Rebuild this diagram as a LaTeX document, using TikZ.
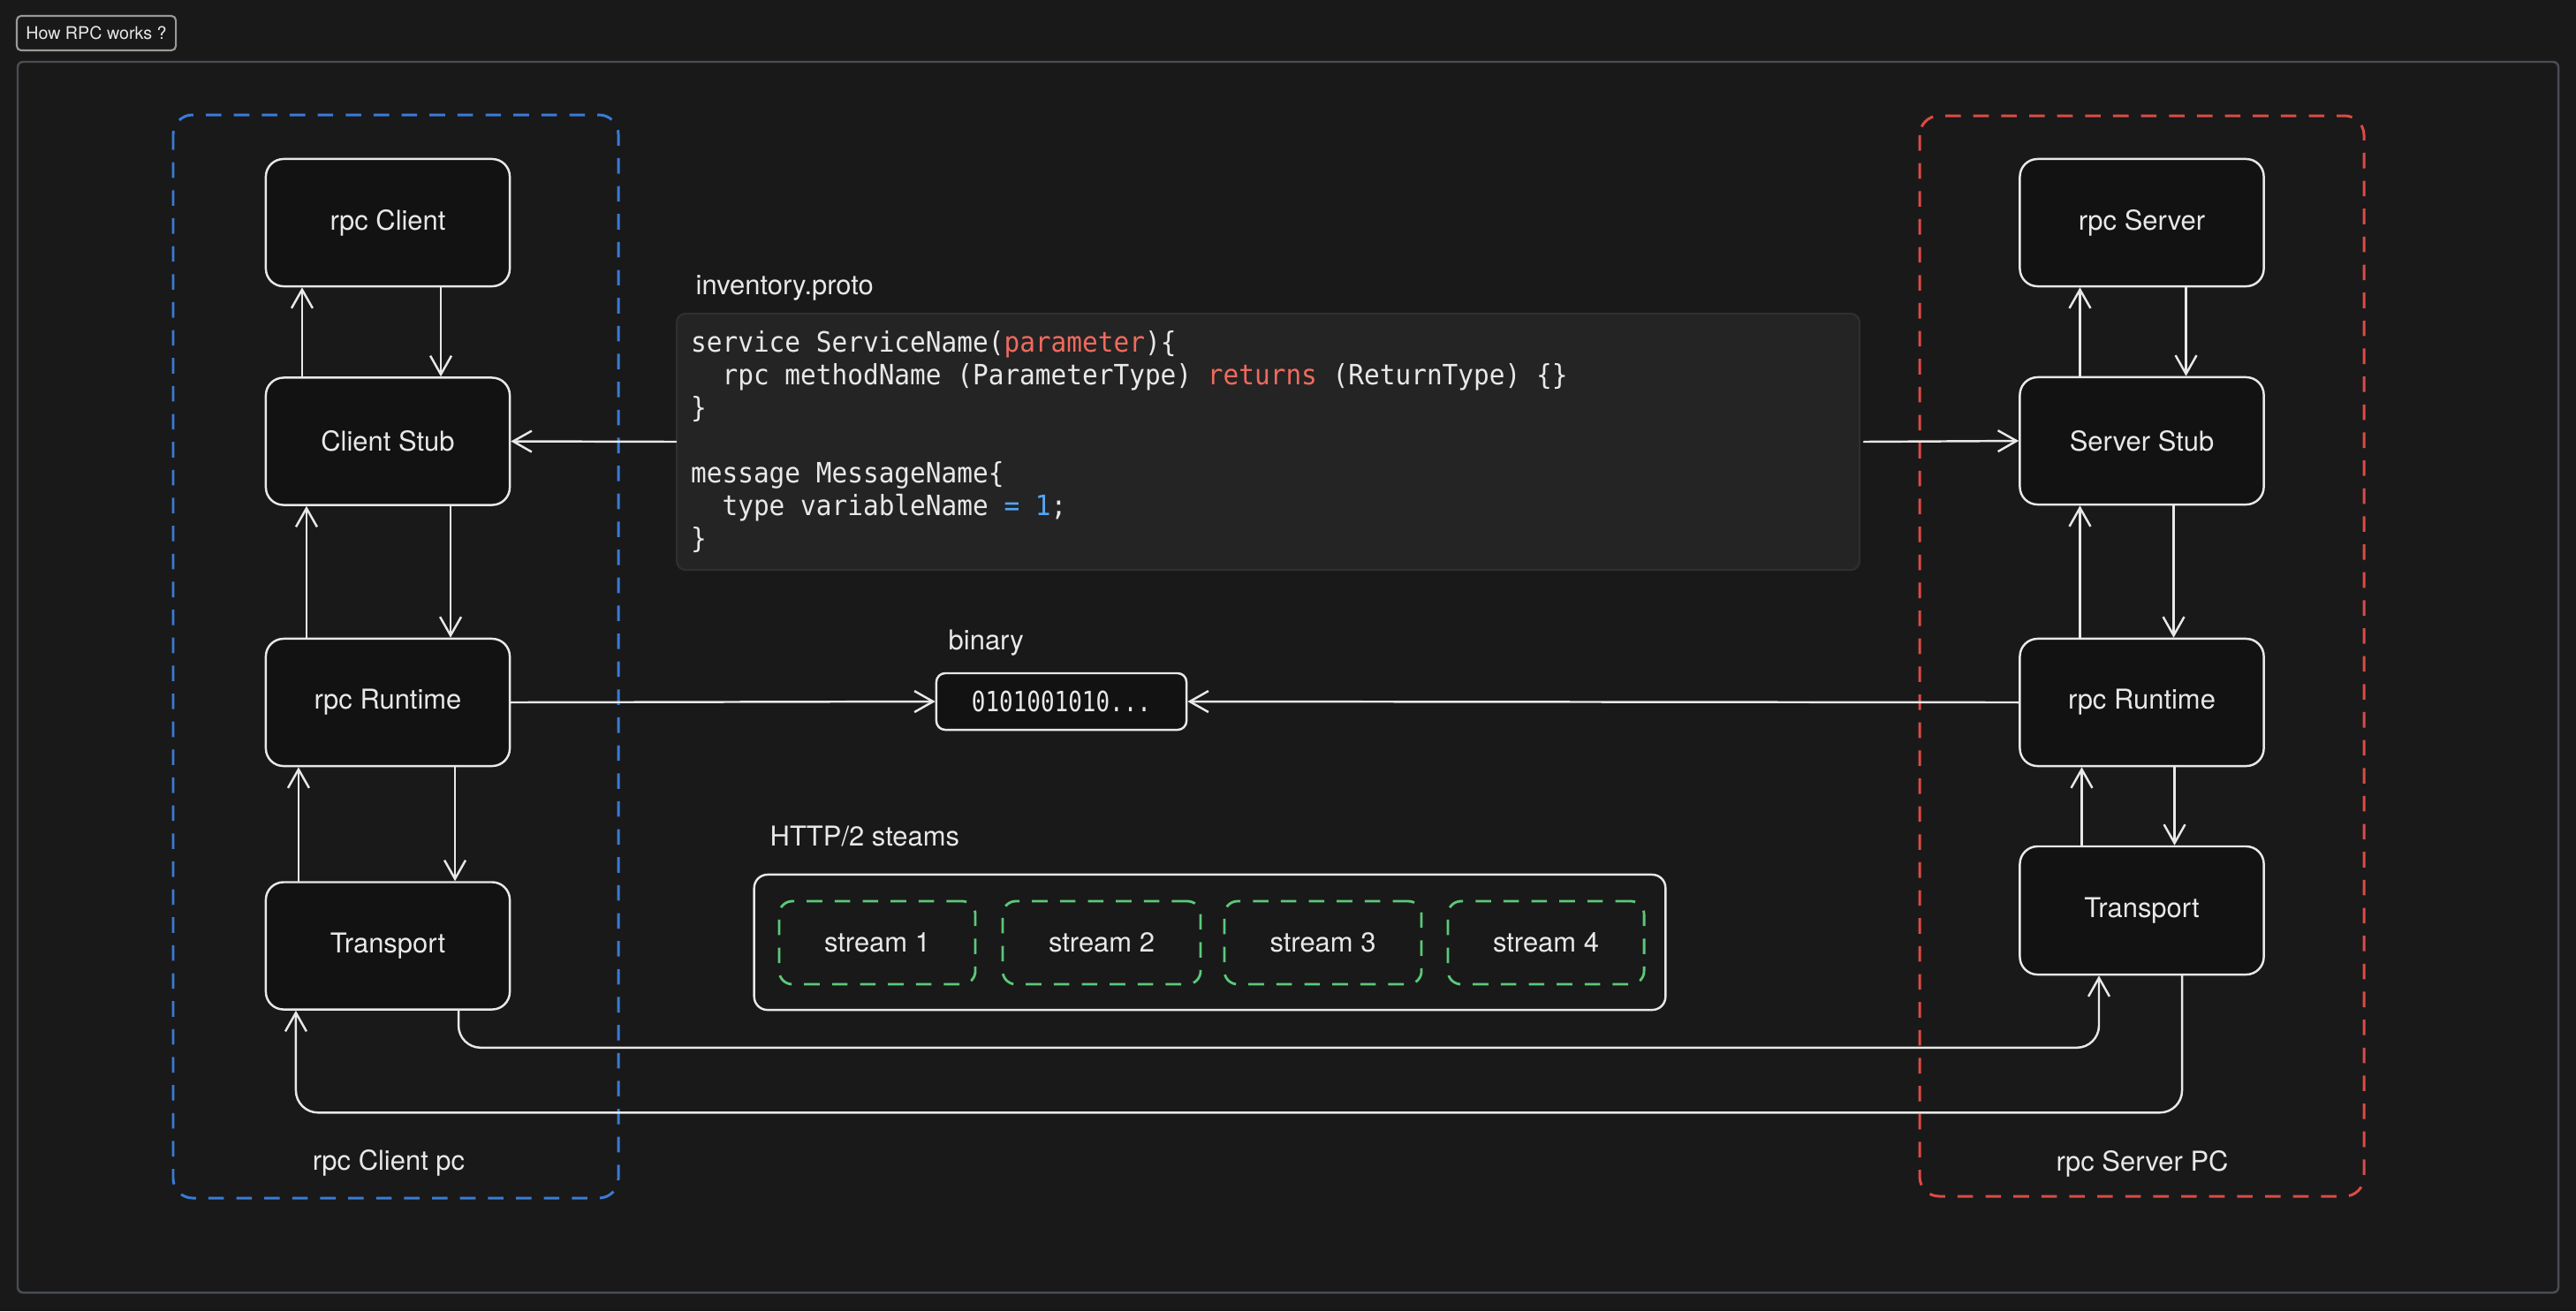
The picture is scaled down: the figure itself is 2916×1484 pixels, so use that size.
\documentclass[tikz,border=0pt]{standalone}
\usepackage{fontspec}
\setmainfont{TeX Gyre Heros}
\newfontfamily\codefont[FakeStretch=0.93]{DejaVu Sans Mono}
\newfontfamily\binfont[FakeStretch=0.82]{DejaVu Sans Mono}
\usetikzlibrary{arrows.meta}
\definecolor{bg}{HTML}{191919}
\definecolor{fg}{HTML}{E8E8E8}
\definecolor{frame}{HTML}{4A4D52}
\definecolor{boxfill}{HTML}{121212}
\definecolor{cblueb}{HTML}{3A7BD5}
\definecolor{credb}{HTML}{DC4B45}
\definecolor{cgreen}{HTML}{5BC97A}
\definecolor{codefill}{HTML}{242424}
\definecolor{codeborder}{HTML}{303030}
\definecolor{cred}{HTML}{F06A5E}
\definecolor{cblue}{HTML}{55A5F2}
\newcommand\cind{\hspace*{2\fontcharwd\font`a}}
\newcommand\csp{\hspace*{\fontcharwd\font`a}}
\tikzset{
  lbl/.style={text=fg, inner sep=0pt, font=\fontsize{8.8}{10}\selectfont},
  pbox/.style={draw=fg, line width=0.7pt, fill=boxfill, rounded corners=0.2cm,
    minimum width=2.76cm, minimum height=1.44cm, text=fg, font=\fontsize{8.8}{10}\selectfont},
  arr/.style={draw=fg, line width=0.7pt, line cap=round,
    -{Straight Barb[length=6pt,width=6.8pt,line width=0.7pt]}},
  grp/.style={line width=0.85pt, dash pattern=on 5pt off 4pt, rounded corners=0.22cm},
  sbox/.style={draw=cgreen, line width=0.8pt, dash pattern=on 5pt off 4pt, rounded corners=0.15cm,
    minimum width=2.22cm, minimum height=0.94cm, text=fg, font=\fontsize{8.8}{10}\selectfont},
}
\begin{document}
\begin{tikzpicture}[x=0.01cm,y=-0.01cm]
\useasboundingbox (0,0) rectangle (2916,1484);
\fill[bg] (0,0) rectangle (2916,1484);
% outer frame
\draw[frame, line width=0.7pt, rounded corners=0.06cm] (20,70) rectangle (2896,1463);
% title
\node[draw=gray!80, fill=bg, line width=0.6pt, rounded corners=0.05cm, minimum width=1.8cm,
  minimum height=0.39cm, inner sep=0pt, text=fg, font=\fontsize{5.6}{6}\selectfont]
  (title) at (109,37.5) {How RPC works ?};
% groups
\draw[grp, cblueb] (196,130) rectangle (700,1356);
\draw[grp, credb] (2173,131) rectangle (2676,1354);
\node[lbl, anchor=base] (clientpc) at (440,1324) {rpc Client pc};
\node[lbl, anchor=base] (serverpc) at (2425,1325) {rpc Server PC};
% client boxes
\node[pbox] (rpcc) at (439,252) {rpc Client};
\node[pbox] (cstub) at (439,499.5) {Client Stub};
\node[pbox] (crun) at (439,795) {rpc Runtime};
\node[pbox] (ctrans) at (439,1070.5) {Transport};
% server boxes
\node[pbox] (rpcs) at (2424.5,252) {rpc Server};
\node[pbox] (sstub) at (2424.5,499) {Server Stub};
\node[pbox] (srun) at (2424.5,795) {rpc Runtime};
\node[pbox, minimum height=1.45cm] (strans) at (2424.5,1030.5) {Transport};
% code
\node[lbl, anchor=base west] (protolbl) at (787,333) {inventory.proto};
\node[draw=codeborder, fill=codefill, line width=0.6pt, rounded corners=0.1cm,
  minimum width=13.38cm, minimum height=2.9cm, inner xsep=0.16cm, inner ysep=0pt,
  text width=13.06cm, align=left, text=fg,
  font=\codefont\fontsize{9}{10.53}\selectfont] (code) at (1435.5,500) {%
service\csp ServiceName(\textcolor{cred}{parameter})\{\\
\cind rpc\csp methodName\csp (ParameterType)\csp \textcolor{cred}{returns}\csp (ReturnType)\csp \{\}\\
\}\\
\mbox{}\\
message\csp MessageName\{\\
\cind type\csp variableName\csp \textcolor{cblue}{=}\csp \textcolor{cblue}{1};\\
\}};
% binary
\node[lbl, anchor=base west] (binlbl) at (1073,735) {binary};
\node[draw=fg, line width=0.7pt, fill=boxfill, rounded corners=0.1cm, minimum width=2.83cm,
  minimum height=0.64cm, inner sep=0pt, text=fg, font=\binfont\fontsize{9}{10}\selectfont]
  (bin) at (1201.5,794) {0101001010...};
% streams
\node[lbl, anchor=base west] (httplbl) at (871,957) {HTTP/2 steams};
\node[draw=fg, line width=0.7pt, rounded corners=0.15cm, minimum width=10.31cm,
  minimum height=1.53cm] (streams) at (1369.5,1066.5) {};
\node[sbox] (s1) at (993,1067) {stream 1};
\node[sbox, minimum width=2.24cm] (s2) at (1247,1067) {stream 2};
\node[sbox, minimum width=2.23cm] (s3) at (1497.5,1067) {stream 3};
\node[sbox] (s4) at (1750,1067) {stream 4};
% client vertical arrows
\draw[arr] ([xshift=-0.97cm]cstub.north) -- ([xshift=-0.97cm]rpcc.south);
\draw[arr] ([xshift=0.60cm]rpcc.south) -- ([xshift=0.60cm]cstub.north);
\draw[arr] ([xshift=-0.92cm]crun.north) -- ([xshift=-0.92cm]cstub.south);
\draw[arr] ([xshift=0.71cm]cstub.south) -- ([xshift=0.71cm]crun.north);
\draw[arr] ([xshift=-1.01cm]ctrans.north) -- ([xshift=-1.01cm]crun.south);
\draw[arr] ([xshift=0.76cm]crun.south) -- ([xshift=0.76cm]ctrans.north);
% server vertical arrows
\draw[arr] ([xshift=-0.70cm]sstub.north) -- ([xshift=-0.70cm]rpcs.south);
\draw[arr] ([xshift=0.50cm]rpcs.south) -- ([xshift=0.50cm]sstub.north);
\draw[arr] ([xshift=-0.70cm]srun.north) -- ([xshift=-0.70cm]sstub.south);
\draw[arr] ([xshift=0.36cm]sstub.south) -- ([xshift=0.36cm]srun.north);
\draw[arr] ([xshift=-0.68cm]strans.north) -- ([xshift=-0.68cm]srun.south);
\draw[arr] ([xshift=0.37cm]srun.south) -- ([xshift=0.37cm]strans.north);
% horizontal arrows
\draw[arr] (code.west) -- (cstub.east);
\draw[arr] ([xshift=0.04cm]code.east) -- (sstub.west);
\draw[arr] (crun.east) -- (bin.west);
\draw[arr] (srun.west) -- (bin.east);
% transport links
\draw[arr, rounded corners=0.25cm] ([xshift=0.80cm]ctrans.south) -- ++(0,42) -| ([xshift=-0.485cm]strans.south);
\draw[arr, rounded corners=0.25cm] ([xshift=0.455cm]strans.south) -- ++(0,155) -| ([xshift=-1.04cm]ctrans.south);
\end{tikzpicture}
\end{document}
